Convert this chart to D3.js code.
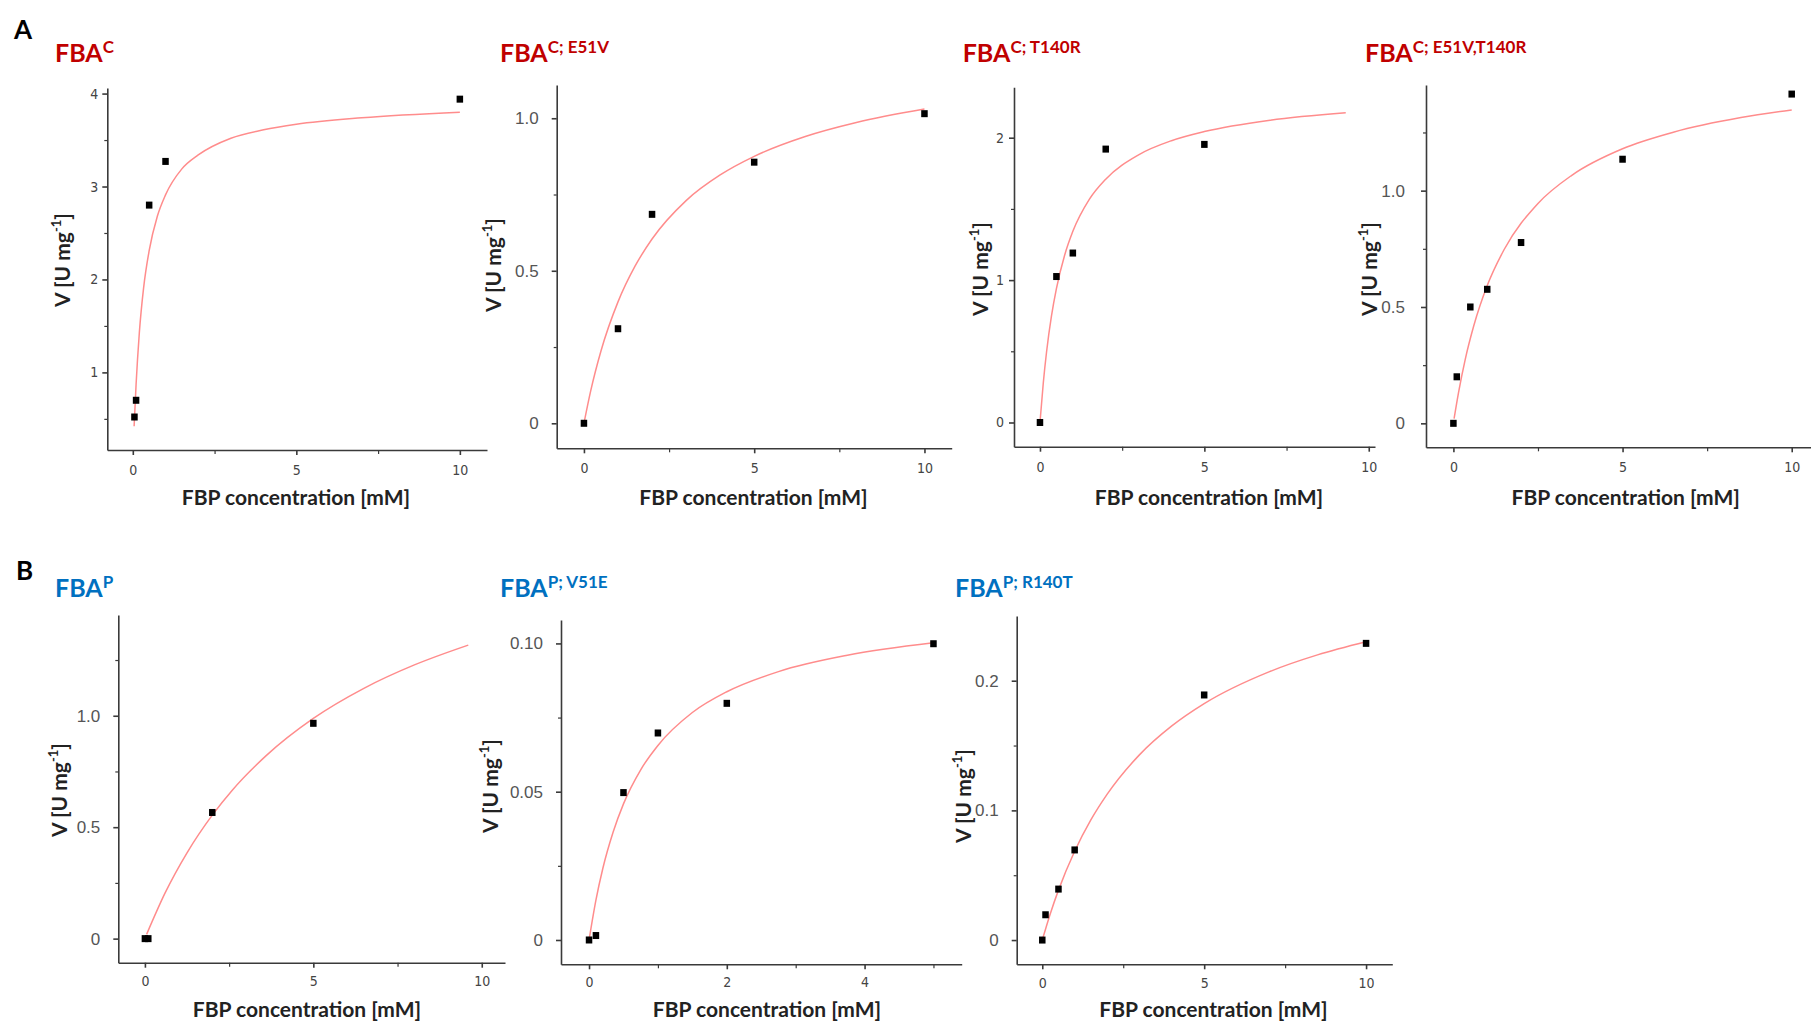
<!DOCTYPE html>
<html lang="en">
<head>
<meta charset="utf-8">
<title>FBA kinetics</title>
<script src="https://cdn.jsdelivr.net/npm/d3@7"></script>
<style>
  body { margin: 0; background: #fff; }
  .narrow text { font-family: "Liberation Sans Narrow", "DejaVu Sans Condensed", "Roboto Condensed", "Liberation Sans", sans-serif; font-stretch: condensed; font-size: 14px; fill: #444; }
  .wide text { font-family: "Liberation Sans", Arial, sans-serif; font-size: 17px; fill: #555; }
  .axis path, .axis line { stroke: #3a3a3a; stroke-width: 1.6; }
  .minor line { stroke: #3a3a3a; stroke-width: 1.2; }
  .title { font-family: Lato, "Open Sans", sans-serif; font-weight: bold; font-size: 25px; }
  .axlabel { font-family: Lato, "Open Sans", sans-serif; font-weight: bold; font-size: 21px; fill: #222; }
  .panel-letter { font-family: Lato, Arial, sans-serif; font-weight: bold; font-size: 26px; fill: #000; }
</style>
</head>
<body>
<script>
// panel titles
var titleMain = 'FBA';
var titleSups = ['C', 'C; E51V', 'C; T140R', 'C; E51V,T140R', 'P', 'P; V51E', 'P; R140T'];

// measured points [FBP mM, V U/mg]
var pointsFbaC = [[0.05, 0.52], [0.1, 0.70], [0.5, 2.80], [1, 3.27], [10, 3.94]];
var pointsFbaCE51V = [[0, 0], [1, 0.31], [2, 0.685], [5, 0.856], [10, 1.015]];
var pointsFbaCT140R = [[0, 0], [0.5, 1.025], [1, 1.19], [2, 1.92], [5, 1.953]];
var pointsFbaCE51VT140R = [[0, 0], [0.1, 0.2], [0.5, 0.5], [1, 0.576], [2, 0.777], [5, 1.135], [10, 1.415]];
var pointsFbaP = [[0, 0], [0.1, 0], [2, 0.566], [5, 0.966]];
var pointsFbaPV51E = [[0, 0], [0.1, 0.0015], [0.5, 0.0497], [1, 0.0698], [2, 0.0798], [5, 0.0999]];
var pointsFbaPR140T = [[0, 0], [0.1, 0.0195], [0.5, 0.0393], [1, 0.0695], [5, 0.189], [10, 0.2288]];

// fitted curves
var fitFbaC = [[0.04, 0.42], [0.1, 0.87], [0.2, 1.43], [0.33, 1.91], [0.5, 2.31], [0.75, 2.68], [1, 2.91], [1.5, 3.19], [2, 3.34], [3, 3.52], [4, 3.61], [5, 3.67], [7, 3.74], [10, 3.80]];
var fitFbaCE51V = [[0, 0], [0.2, 0.107], [0.5, 0.237], [1, 0.398], [1.5, 0.515], [2, 0.604], [3, 0.730], [4, 0.814], [5, 0.875], [6.5, 0.940], [8, 0.986], [10, 1.030]];
var fitFbaCT140R = [[0, 0], [0.1, 0.276], [0.2, 0.495], [0.35, 0.748], [0.5, 0.94], [0.75, 1.175], [1, 1.343], [1.5, 1.567], [2, 1.709], [3, 1.88], [4, 1.979], [5, 2.043], [7, 2.123], [9.3, 2.175]];
var fitFbaCE51VT140R = [[0.02, 0.02], [0.15, 0.131], [0.35, 0.275], [0.6, 0.418], [1, 0.592], [1.5, 0.747], [2.5, 0.945], [3.5, 1.066], [5, 1.180], [6.5, 1.251], [8.5, 1.314], [10, 1.347]];
var fitFbaP = [[0.05, 0.019], [0.6, 0.205], [1.25, 0.385], [2, 0.554], [2.6, 0.667], [3.6, 0.821], [5, 0.988], [6.5, 1.123], [8, 1.228], [9.6, 1.317]];
var fitFbaPV51E = [[0, 0], [0.1, 0.01345], [0.2, 0.0241], [0.35, 0.0364], [0.5, 0.0459], [0.75, 0.0574], [1, 0.0656], [1.5, 0.0767], [2, 0.0837], [2.75, 0.0905], [3.75, 0.096], [5, 0.1002]];
var fitFbaPR140T = [[0, 0], [0.25, 0.0205], [0.5, 0.0385], [1, 0.0685], [1.5, 0.0926], [2, 0.1123], [3, 0.1428], [4, 0.1651], [5, 0.1823], [7, 0.2068], [8.5, 0.2199], [10, 0.230]];

// ticks
var xTicks10 = [0, 5, 10];
var xMinor10 = [2.5, 7.5];
var xTicks5 = [0, 2, 4];
var xMinor5 = [1, 3, 5];
var yTicksFbaC = [1, 2, 3, 4];
var yMinorFbaC = [0.5, 1.5, 2.5, 3.5];
var yTicksOne = [0, 0.5, 1.0];
var yLabelsOne = ['0', '0.5', '1.0'];
var yMinorOne = [0.25, 0.75];
var yMinorOneHigh = [0.25, 0.75, 1.25];
var yTicksTwo = [0, 1, 2];
var yMinorTwo = [0.5, 1.5];
var yTicksV51E = [0, 0.05, 0.10];
var yLabelsV51E = ['0', '0.05', '0.10'];
var yMinorV51E = [0.025, 0.075];
var yTicksR140T = [0, 0.1, 0.2];
var yLabelsR140T = ['0', '0.1', '0.2'];
var yMinorR140T = [0.05, 0.15];

var red = '#c00000', blue = '#0070c0';

var w = 1811, h = 1022;
var svg = d3.select('body').append('svg').attr('width', w).attr('height', h);

//layout of each panel (pixel box, domains, label spots)
var panels = [
  { sup: titleSups[0], color: red, tx: 55, ty: 61.7, box: [107.3, 487, 88, 450], xd: [-0.78, 10.83], yd: [0.165, 4.06],
    pts: pointsFbaC, fit: fitFbaC, xt: xTicks10, xm: xMinor10, yt: yTicksFbaC, yl: null, ym: yMinorFbaC, ystyle: 'narrow', ypad: 4,
    ylx: 70, yly: 260, xlx: 296, xly: 505, xpad: 10 },
  { sup: titleSups[1], color: red, tx: 500, ty: 61.7, box: [556.7, 951.7, 85, 448.3], xd: [-0.80, 10.80], yd: [-0.082, 1.109],
    pts: pointsFbaCE51V, fit: fitFbaCE51V, xt: xTicks10, xm: xMinor10, yt: yTicksOne, yl: yLabelsOne, ym: yMinorOne, ystyle: 'wide', ypad: 13,
    ylx: 500.7, yly: 265, xlx: 753.5, xly: 505, xpad: 10 },
  { sup: titleSups[2], color: red, tx: 962.7, ty: 61.7, box: [1014, 1375, 87.3, 446.7], xd: [-0.79, 10.19], yd: [-0.17, 2.354],
    pts: pointsFbaCT140R, fit: fitFbaCT140R, xt: xTicks10, xm: xMinor10, yt: yTicksTwo, yl: null, ym: yMinorTwo, ystyle: 'narrow', ypad: 5,
    ylx: 988.3, yly: 269, xlx: 1209, xly: 505, xpad: 10 },
  { sup: titleSups[3], color: red, tx: 1365, ty: 61.7, box: [1426, 1811, 85, 447.3], xd: [-0.81, 10.57], yd: [-0.103, 1.454],
    pts: pointsFbaCE51VT140R, fit: fitFbaCE51VT140R, xt: xTicks10, xm: xMinor10, yt: yTicksOne, yl: yLabelsOne, ym: yMinorOneHigh, ystyle: 'wide', ypad: 16,
    ylx: 1376.7, yly: 269, xlx: 1625.7, xly: 505, xpad: 10 },
  { sup: titleSups[4], color: blue, tx: 55, ty: 596.7, box: [118.3, 505, 615, 962.7], xd: [-0.79, 10.69], yd: [-0.108, 1.452],
    pts: pointsFbaP, fit: fitFbaP, xt: xTicks10, xm: xMinor10, yt: yTicksOne, yl: yLabelsOne, ym: yMinorOneHigh, ystyle: 'wide', ypad: 13,
    ylx: 66.7, yly: 790, xlx: 307, xly: 1016.7, xpad: 8 },
  { sup: titleSups[5], color: blue, tx: 500, ty: 596.7, box: [561, 961.7, 620, 964.3], xd: [-0.407, 5.41], yd: [-0.0082, 0.1079],
    pts: pointsFbaPV51E, fit: fitFbaPV51E, xt: xTicks5, xm: xMinor5, yt: yTicksV51E, yl: yLabelsV51E, ym: yMinorV51E, ystyle: 'wide', ypad: 13,
    ylx: 498.3, yly: 786, xlx: 767, xly: 1016.7, xpad: 8 },
  { sup: titleSups[6], color: blue, tx: 955, ty: 596.7, box: [1016.7, 1392.3, 616, 964.3], xd: [-0.79, 10.81], yd: [-0.0187, 0.2499],
    pts: pointsFbaPR140T, fit: fitFbaPR140T, xt: xTicks10, xm: xMinor10, yt: yTicksR140T, yl: yLabelsR140T, ym: yMinorR140T, ystyle: 'wide', ypad: 13,
    ylx: 970.7, yly: 796, xlx: 1213.5, xly: 1016.7, xpad: 9 }
];

//panel letters
svg.append('text').attr('class', 'panel-letter').attr('x', 14).attr('y', 38.5).text('A');
svg.append('text').attr('class', 'panel-letter').attr('x', 16).attr('y', 580).text('B');

panels.forEach(function(p) {
  var x = d3.scaleLinear().domain(p.xd).range([p.box[0], p.box[1]]);
  var y = d3.scaleLinear().domain(p.yd).range([p.box[3], p.box[2]]);
  var g = svg.append('g');

  //title with superscript
  var t = g.append('text').attr('class', 'title').attr('x', p.tx).attr('y', p.ty).attr('fill', p.color);
  t.append('tspan').text(titleMain);
  t.append('tspan').attr('font-size', 17).attr('dy', -8.5).text(p.sup);

  //minor ticks
  g.append('g').attr('class', 'minor').attr('transform', 'translate(0,' + p.box[3] + ')')
    .call(d3.axisBottom(x).tickValues(p.xm).tickSize(4).tickSizeOuter(0).tickFormat(''))
    .select('.domain').remove();
  g.append('g').attr('class', 'minor').attr('transform', 'translate(' + p.box[0] + ',0)')
    .call(d3.axisLeft(y).tickValues(p.ym).tickSize(3).tickSizeOuter(0).tickFormat(''))
    .select('.domain').remove();

  //major axes
  g.append('g').attr('class', 'axis narrow').attr('transform', 'translate(0,' + p.box[3] + ')')
    .call(d3.axisBottom(x).tickValues(p.xt).tickSize(5).tickSizeOuter(0).tickPadding(p.xpad).tickFormat(d3.format('d')));
  g.append('g').attr('class', 'axis ' + p.ystyle).attr('transform', 'translate(' + p.box[0] + ',0)')
    .call(d3.axisLeft(y).tickValues(p.yt).tickSize(5).tickSizeOuter(0).tickPadding(p.ypad)
      .tickFormat(function(d, i) { return p.yl ? p.yl[i] : d3.format('d')(d); }));

  //fit curve
  var line = d3.line()
    .x(function(d) { return x(d[0]); })
    .y(function(d) { return y(d[1]); })
    .curve(d3.curveMonotoneX);
  g.append('path').datum(p.fit).attr('d', line)
    .attr('fill', 'none').attr('stroke', '#ff8c8c').attr('stroke-width', 1.5);

  //square markers
  g.selectAll('rect.pt').data(p.pts).enter().append('rect')
    .attr('class', 'pt')
    .attr('x', function(d) { return x(d[0]) - 3.25; })
    .attr('y', function(d) { return y(d[1]) - 3.5; })
    .attr('width', 6.5).attr('height', 7)
    .attr('fill', '#000');

  //axis labels
  var yl = g.append('text').attr('class', 'axlabel').attr('text-anchor', 'middle')
    .attr('transform', 'translate(' + p.ylx + ',' + p.yly + ') rotate(-90)');
  yl.append('tspan').text('V [U mg');
  yl.append('tspan').attr('font-size', 13).attr('dy', -9).text('-1');
  yl.append('tspan').attr('dy', 9).text(']');

  g.append('text').attr('class', 'axlabel').attr('text-anchor', 'middle')
    .attr('x', p.xlx).attr('y', p.xly).text('FBP concentration [mM]');
});
</script>
</body>
</html>
